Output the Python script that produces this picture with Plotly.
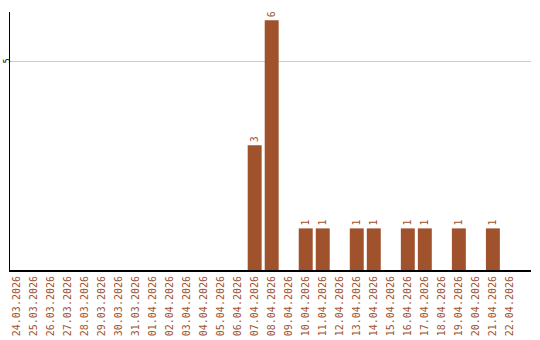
import plotly.graph_objects as go

dates = ["24.03.2026","25.03.2026","26.03.2026","27.03.2026","28.03.2026","29.03.2026",
         "30.03.2026","31.03.2026","01.04.2026","02.04.2026","03.04.2026","04.04.2026",
         "05.04.2026","06.04.2026","07.04.2026","08.04.2026","09.04.2026","10.04.2026",
         "11.04.2026","12.04.2026","13.04.2026","14.04.2026","15.04.2026","16.04.2026",
         "17.04.2026","18.04.2026","19.04.2026","20.04.2026","21.04.2026","22.04.2026"]
counts = [0,0,0,0,0,0,0,0,0,0,0,0,0,0,3,6,0,1,1,0,1,1,0,1,1,0,1,0,1,0]

color = "#a0522d"
font = "DejaVu Sans Mono"
labels = [str(v) if v > 0 else "" for v in counts]

fig = go.Figure(go.Bar(
    x=list(range(len(dates))), y=counts, marker_color=color, marker_line_width=0,
    text=labels, textposition="outside", textangle=-90, cliponaxis=False,
    textfont=dict(family=font, size=10, color=color),
))
fig.update_layout(
    width=540, height=340, margin=dict(l=10, r=9, t=12, b=70),
    paper_bgcolor="white", plot_bgcolor="white", showlegend=False, bargap=0.18,
    xaxis=dict(tickmode="array", tickvals=list(range(len(dates))), ticktext=dates,
               tickangle=-90, range=[-0.38, 30.24], showgrid=False, zeroline=False,
               showline=True, linecolor="black", linewidth=2, ticks="", automargin=False,
               ticklabelstandoff=0,
               tickfont=dict(family=font, size=10, color=color)),
    yaxis=dict(range=[0, 6.2], tickvals=[5], ticktext=["5"], tickangle=-90,
               showgrid=True, gridcolor="#cccccc", zeroline=False, showline=True,
               linecolor="black", linewidth=1, ticks="", automargin=False,
               ticklabelstandoff=-4,
               tickfont=dict(family=font, size=8, color="black")),
)
fig.write_html("out.html")
